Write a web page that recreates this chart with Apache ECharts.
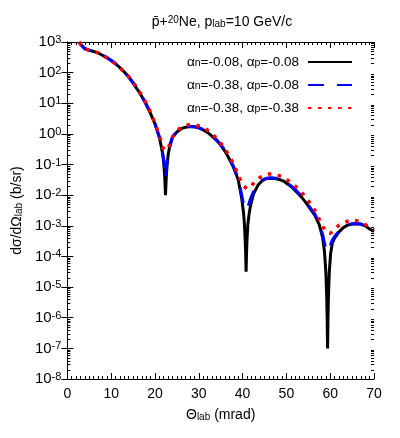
<!DOCTYPE html>
<html>
<head>
<meta charset="utf-8">
<script src="https://cdn.jsdelivr.net/npm/echarts@6/dist/echarts.min.js"></script>
<style>html,body{margin:0;padding:0;background:#fff}#c{width:400px;height:438px}</style>
</head>
<body>
<div id="c"></div>
<script>
// ---- data (theta in mrad, cross section in b/sr) ----
var thetaA = [2.7,3,4,5,6,7,8,9,10,11,12,13,14,15,16,17,18,19,20,21,21.5,21.8,22.0,22.2,22.3,22.4,22.5,22.6,22.8,23.0,23.3,24,25,26,27,28,29,30,31,32,33,34,35,36,37,38,39,39.8,40.2,40.4,40.6,40.7,40.8,40.9,41.0,41.2,41.5,41.8,42.5,43.5,44.5,45.5,46.5,47.5,48.5,49.5,50.5,51.5,52.5,53.5,54.5,55.5,56.5,57.5,58.3,58.7,59.0,59.2,59.3,59.4,59.5,59.6,59.8,60.1,60.5,61,62,63,64,65,66,67,68,69,70];
var sigmaA = [1.0e3,8.5e2,6.0e2,5.4e2,4.9e2,4.4e2,3.7e2,3.1e2,2.5e2,1.95e2,1.45e2,1.05e2,7.2e1,4.6e1,2.8e1,1.66e1,9.1,4.6,2.1,7.6e-1,3.5e-1,2.0e-1,1.1e-1,4.5e-2,2.2e-2,1.0e-2,2.2e-2,4.5e-2,1.1e-1,2.0e-1,3.5e-1,7.9e-1,1.15,1.48,1.66,1.74,1.70,1.58,1.35,1.12,8.5e-1,6.3e-1,4.3e-1,2.7e-1,1.5e-1,7.6e-2,3.2e-2,7.9e-3,2.8e-3,1.26e-3,3.2e-4,1.26e-4,3.2e-5,1.26e-4,3.2e-4,1.1e-3,2.5e-3,4.5e-3,1.1e-2,2.1e-2,3.0e-2,3.5e-2,3.6e-2,3.5e-2,3.2e-2,2.8e-2,2.2e-2,1.7e-2,1.2e-2,8.5e-3,5.6e-3,3.5e-3,2.2e-3,1.1e-3,4.0e-4,1.4e-4,3.2e-5,5.0e-6,1.0e-6,1.0e-7,1.0e-6,5.0e-6,3.2e-5,1.26e-4,2.8e-4,4.0e-4,6.3e-4,8.7e-4,1.05e-3,1.15e-3,1.17e-3,1.12e-3,1.0e-3,7.9e-4,6.6e-4];

var thetaB = [2.7,3,4,5,6,7,8,9,10,11,12,13,14,15,16,17,18,19,20,21,21.5,22.0,22.4,22.8,23.3,24,25,26,27,28,29,30,31,32,33,34,35,36,37,38,39,39.8,40.3,40.8,41.3,41.8,42.5,43.5,44.5,45.5,46.5,47.5,48.5,49.5,50.5,51.5,52.5,53.5,54.5,55.5,56.5,57.5,58.3,58.9,59.4,59.9,60.4,61,62,63,64,65,66,67,68,69,70];
var sigmaB = [1.0e3,8.5e2,6.0e2,5.4e2,4.9e2,4.4e2,3.7e2,3.1e2,2.5e2,1.95e2,1.45e2,1.05e2,7.3e1,4.7e1,2.9e1,1.7e1,9.4,4.8,2.2,8.0e-1,3.8e-1,1.4e-1,3.6e-2,1.4e-1,3.8e-1,8.0e-1,1.17,1.5,1.68,1.76,1.72,1.6,1.38,1.15,8.8e-1,6.6e-1,4.5e-1,2.9e-1,1.6e-1,8.2e-2,3.5e-2,1.0e-2,4.5e-3,3.2e-3,4.5e-3,7.6e-3,1.3e-2,2.2e-2,3.1e-2,3.6e-2,3.7e-2,3.6e-2,3.3e-2,2.9e-2,2.3e-2,1.8e-2,1.3e-2,9.0e-3,6.0e-3,3.8e-3,2.4e-3,1.2e-3,5.0e-4,2.0e-4,1.4e-4,2.0e-4,3.2e-4,4.5e-4,6.6e-4,8.9e-4,1.07e-3,1.17e-3,1.19e-3,1.14e-3,1.02e-3,8.1e-4,6.8e-4];

var thetaC = [2.7,3,4,5,6,7,8,9,10,11,12,13,14,15,16,17,18,19,20,21,21.8,22.5,23.2,24,25,26,27,28,29,30,31,32,33,34,35,36,37,38,39,40,41,42,43,44,45,46,47,48,49,50,51,52,53,54,55,56,57,58,59,60,61,62,63,64,65,66,67,68,69,70];
var sigmaC = [1.0e3,8.5e2,6.0e2,5.4e2,4.9e2,4.4e2,3.7e2,3.1e2,2.5e2,1.95e2,1.45e2,1.05e2,7.3e1,4.8e1,3.0e1,1.8e1,1.0e1,5.1,2.2,8.9e-1,3.5e-1,2.8e-1,4.0e-1,7.9e-1,1.26,1.66,1.9,2.04,2.0,1.82,1.58,1.32,1.0,7.4e-1,5.0e-1,3.2e-1,1.86e-1,1.0e-1,4.5e-2,2.2e-2,1.6e-2,2.0e-2,3.0e-2,3.8e-2,4.5e-2,4.9e-2,4.9e-2,4.5e-2,4.0e-2,3.3e-2,2.6e-2,2.0e-2,1.45e-2,1.0e-2,6.6e-3,4.2e-3,2.4e-3,1.1e-3,6.6e-4,5.6e-4,7.6e-4,1.05e-3,1.26e-3,1.41e-3,1.51e-3,1.48e-3,1.32e-3,1.1e-3,8.9e-4,7.6e-4];

var seriesNames = ['s1', 's2', 's3'];
var legendLabels = [
  '\u03b1{sub|n}=-0.08, \u03b1{sub|p}=-0.08',
  '\u03b1{sub|n}=-0.38, \u03b1{sub|p}=-0.08',
  '\u03b1{sub|n}=-0.38, \u03b1{sub|p}=-0.38'
];
var yExponents = [-8,-7,-6,-5,-4,-3,-2,-1,0,1,2,3];
var xTicks = [0,10,20,30,40,50,60,70];

function pairs(xs, ys) { return xs.map(function (x, i) { return [x, ys[i]]; }); }

// minor tick values for the log axis (2..9 x 10^n)
var minorVals = [];
for (var n = -8; n < 3; n++) {
  for (var k = 2; k <= 9; k++) minorVals.push([0, k * Math.pow(10, n)]);
}

var FONT = 'Liberation Sans';
var subStyle = { fontFamily: FONT, fontSize: 10, verticalAlign: 'bottom', lineHeight: 10, padding: [6, 0, 0, 0] };
var chart = echarts.init(document.getElementById('c'), null, { renderer: 'canvas' });

var option = {
  animation: false,
  backgroundColor: '#fff',
  textStyle: { fontFamily: FONT, color: '#000' },
  title: {
    text: 'p\u0304+{sup|20}Ne, p{sub|lab}=10 GeV/c',
    left: 217, top: 10, textAlign: 'center',
    textStyle: {
      fontFamily: FONT, fontSize: 14, fontWeight: 'normal', color: '#000',
      rich: {
        sup: { fontFamily: FONT, fontSize: 10, verticalAlign: 'top', lineHeight: 10, padding: [0, 0, 6, 0] },
        sub: subStyle
      }
    }
  },
  grid: { left: 61, right: 26, top: 42, bottom: 59 },
  legend: {
    data: seriesNames,
    orient: 'vertical',
    right: 42, top: 47,
    align: 'right',
    itemWidth: 44, itemHeight: 12, itemGap: 6,
    itemStyle: { opacity: 0 },
    formatter: function (name) { return legendLabels[seriesNames.indexOf(name)]; },
    textStyle: {
      fontFamily: FONT, fontSize: 13.5, color: '#000', padding: [0, 4, 0, 0],
      rich: { sub: { fontFamily: FONT, fontSize: 10.5, verticalAlign: 'bottom', lineHeight: 10, padding: [6, 0, 0, 0] } }
    },
    selectedMode: false
  },
  xAxis: [{
    type: 'value', min: 0, max: 70, interval: 10,
    name: '\u0398{sub|lab} (mrad)', nameLocation: 'middle', nameGap: 28,
    nameTextStyle: { fontFamily: FONT, fontSize: 14, color: '#000', rich: { sub: subStyle } },
    axisLine: { show: true, lineStyle: { color: '#000', width: 1 } },
    axisTick: { show: true, inside: true, length: 6, lineStyle: { color: '#000' } },
    minorTick: { show: true, splitNumber: 10, length: 3, lineStyle: { color: '#000' } },
    axisLabel: { fontFamily: FONT, fontSize: 14, color: '#000', margin: 8,
      formatter: function (v) { return xTicks.indexOf(v) >= 0 ? String(v) : ''; } },
    splitLine: { show: false }
  }, {
    type: 'value', min: 0, max: 70, interval: 10, position: 'top',
    axisLine: { show: true, lineStyle: { color: '#000', width: 1 } },
    axisTick: { show: true, inside: true, length: 6, lineStyle: { color: '#000' } },
    minorTick: { show: true, splitNumber: 10, length: 3, lineStyle: { color: '#000' } },
    axisLabel: { show: false }, splitLine: { show: false }
  }],
  yAxis: [{
    type: 'log', logBase: 10, min: 1e-8, max: 1e3, interval: 1,
    name: 'd\u03c3/d\u03a9{sub|lab} (b/sr)', nameLocation: 'middle', nameGap: 39, nameRotate: 90,
    nameTextStyle: { fontFamily: FONT, fontSize: 14, color: '#000', rich: { sub: subStyle } },
    axisLine: { show: true, lineStyle: { color: '#000', width: 1 } },
    axisTick: { show: true, inside: true, length: 6, lineStyle: { color: '#000' } },
    axisLabel: {
      fontFamily: FONT, fontSize: 15, color: '#000', margin: 6,
      formatter: function (v) {
        var e = Math.round(Math.log(v) / Math.LN10);
        return yExponents.indexOf(e) >= 0 ? '10{sup|' + e + '}' : '';
      },
      rich: { sup: { fontFamily: FONT, fontSize: 11, verticalAlign: 'top', lineHeight: 11, padding: [0, 0, 7, 0] } }
    },
    splitLine: { show: false }
  }, {
    type: 'log', logBase: 10, min: 1e-8, max: 1e3, interval: 1, position: 'right',
    axisLine: { show: true, lineStyle: { color: '#000', width: 1 } },
    axisTick: { show: true, inside: true, length: 6, lineStyle: { color: '#000' } },
    axisLabel: { show: false }, splitLine: { show: false }
  }],
  series: [{
    name: 's1', type: 'line', data: pairs(thetaA, sigmaA),
    showSymbol: false, symbol: 'none', clip: true,
    lineStyle: { color: '#000000', width: 3 }, itemStyle: { color: '#000000' }, z: 2
  }, {
    name: 's2', type: 'line', data: pairs(thetaB, sigmaB),
    showSymbol: false, symbol: 'none', clip: true,
    lineStyle: { color: '#0000ff', width: 3, type: [16, 13] }, itemStyle: { color: '#0000ff' }, z: 3
  }, {
    name: 's3', type: 'line', data: pairs(thetaC, sigmaC),
    showSymbol: false, symbol: 'none', clip: true,
    lineStyle: { color: '#ff0000', width: 3.5, type: [3.5, 6.5] }, itemStyle: { color: '#ff0000' }, z: 4
  }, {
    name: 'minorTicks', type: 'custom', data: minorVals, silent: true, clip: false, z: 5,
    renderItem: function (params, api) {
      var v = api.value(1);
      var p = api.coord([0, v]);
      var q = api.coord([70, v]);
      var st = { stroke: '#000', lineWidth: 1 };
      return { type: 'group', children: [
        { type: 'line', shape: { x1: p[0], y1: Math.round(p[1]) + 0.5, x2: p[0] + 3, y2: Math.round(p[1]) + 0.5 }, style: st },
        { type: 'line', shape: { x1: q[0] - 3, y1: Math.round(q[1]) + 0.5, x2: q[0], y2: Math.round(q[1]) + 0.5 }, style: st }
      ] };
    }
  }]
};
chart.setOption(option);
</script>
</body>
</html>
